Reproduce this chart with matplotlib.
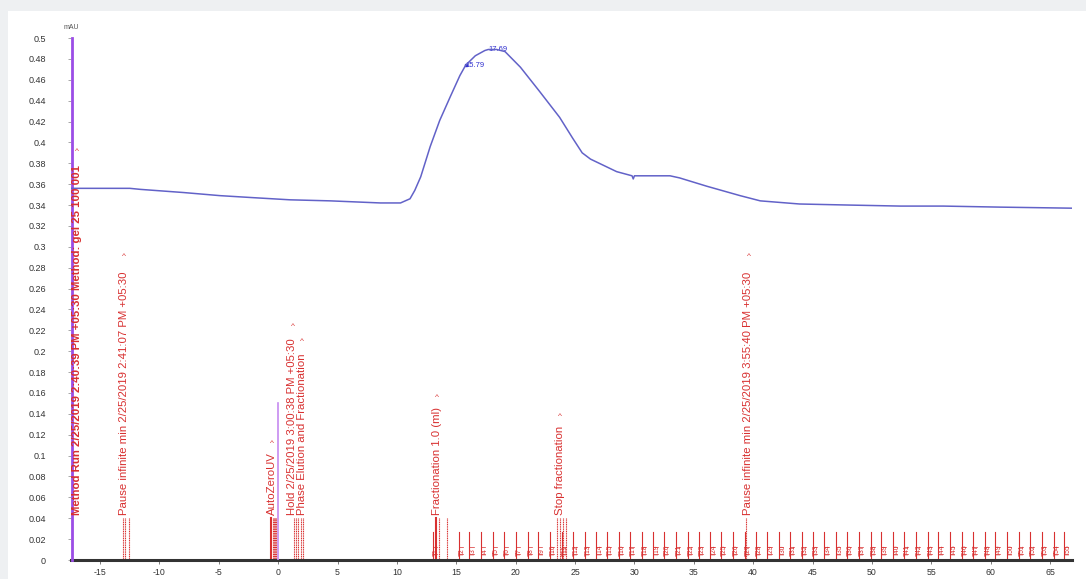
import matplotlib.pyplot as plt
from matplotlib.patches import Rectangle

plt.rcParams["axes.unicode_minus"] = False

# UV trace (min, mAU)
uv_t = [-17.4, -15.0, -12.5, -11.6, -8.0, -4.9, -2.0, 1.0, 4.4, 8.6, 10.3, 11.1,
        11.5, 12.0, 12.8, 13.6, 14.5, 15.3, 15.79, 16.6, 17.4, 17.69, 18.4, 19.1,
        20.4, 22.0, 23.7, 24.8, 25.6, 26.3, 28.5, 29.8, 29.9, 30.0, 31.9, 33.0, 33.8,
        36.1, 38.9, 40.6, 43.9, 48.0, 52.4, 56.0, 60.8, 66.8]
uv_a = [0.356, 0.356, 0.356, 0.355, 0.352, 0.349, 0.347, 0.345, 0.344, 0.342, 0.342, 0.346,
        0.354, 0.367, 0.396, 0.421, 0.444, 0.464, 0.474, 0.483, 0.488, 0.489, 0.489, 0.487,
        0.472, 0.449, 0.424, 0.404, 0.390, 0.384, 0.372, 0.368, 0.365, 0.368, 0.368, 0.368,
        0.366, 0.358, 0.349, 0.344, 0.341, 0.340, 0.339, 0.339, 0.338, 0.337]

peak_t = [15.79, 17.69]
peak_a = [0.474, 0.489]
peak_lbl = ["15.79", "17.69"]

# run log events
event_x = [-16.95, -13.0, -0.5, 1.2, 2.0, 13.4, 23.7, 39.6]
event_top = [0.391, 0.291, 0.112, 0.224, 0.209, 0.156, 0.137, 0.291]
event_txt = [
    "Method Run 2/25/2019 2:40:39 PM +05:30 Method: gel 25 100 001",
    "Pause infinite min 2/25/2019 2:41:07 PM +05:30",
    "AutoZeroUV",
    "Hold 2/25/2019 3:00:38 PM +05:30",
    "Phase Elution and Fractionation",
    "Fractionation 1.0 (ml)",
    "Stop fractionation",
    "Pause infinite min 2/25/2019 3:55:40 PM +05:30",
]
mark_x = [-17.4, -13.1, -12.9, -12.6, -0.45, -0.35, -0.25, -0.15, 1.3, 1.5, 1.7,
          1.9, 2.1, 13.5, 14.2, 23.5, 23.7, 24.0, 24.2, 39.4]

# fraction marks
frac_x = [13.0, 15.2, 16.1, 17.1, 18.1, 19.0, 20.0, 21.0, 21.9, 22.9, 23.9, 24.8,
          25.8, 26.8, 27.7, 28.7, 29.6, 30.6, 31.6, 32.5, 33.5, 34.5, 35.4, 36.4,
          37.3, 38.3, 39.3, 40.2, 41.2, 42.2, 43.1, 44.1, 45.0, 46.0, 47.0, 47.9,
          48.9, 49.9, 50.8, 51.8, 52.7, 53.7, 54.7, 55.6, 56.6, 57.6, 58.5, 59.5,
          60.4, 61.4, 62.4, 63.3, 64.3, 65.3, 66.2]

red = "#d83030"
font = "Liberation Sans"

fig = plt.figure(figsize=(10.86, 5.79), dpi=100, facecolor="#eef0f2")
fig.patches.append(Rectangle((8 / 1086, 0), 1, 1 - 11 / 579, transform=fig.transFigure,
                             facecolor="white", edgecolor="none", zorder=-10))
ax = fig.add_axes([71 / 1086, 19 / 579, 1001 / 1086, 522 / 579])
ax.set_facecolor("none")

# purple UV spikes
ax.plot([-17.4, -17.4], [0, 0.5], color="#9b4de6", lw=2, clip_on=False, zorder=3)
ax.plot([0, 0], [0, 0.15], color="#c68af0", lw=1.2, zorder=3)

ax.plot(uv_t, uv_a, color="#6262c8", lw=1.1, zorder=4)
for t, a, s in zip(peak_t, peak_a, peak_lbl):
    ax.text(t, a, s, color="#3030d0", fontsize=5.5, family=font, ha="left", va="center")
ax.plot([15.79], [0.474], marker="s", ms=2, color="#3030d0")

for x in mark_x:
    ax.plot([x, x], [0, 0.04], color=red, lw=0.8, ls=(0, (1, 0.6)), zorder=2)

for i, (x, top, s) in enumerate(zip(event_x, event_top, event_txt)):
    ax.text(x, 0.043, s, rotation=90, color=red, fontsize=8.2, family=font,
            ha="center", va="bottom", fontweight="bold" if i == 0 else "normal", zorder=5)
    ax.text(x, top, "^", color=red, fontsize=6, family=font, ha="center", va="center")
    if i in (2, 5):
        ax.plot([x - 0.1, x - 0.1], [0, 0.04], color=red, lw=1.5, zorder=2)

for k, x in enumerate(frac_x):
    ax.plot([x, x], [0, 0.027], color=red, lw=0.8, zorder=2)
    ax.plot([x, x + 0.35], [0.012, 0.012], color=red, lw=0.5, zorder=2)
    ax.plot([x, x + 0.35], [0.006, 0.006], color=red, lw=0.5, zorder=2)
    ax.text(x + 0.3, 0.004, "T%d" % (k + 1), rotation=90, color=red, fontsize=4.8,
            family=font, ha="center", va="bottom", zorder=2)

ax.set_xlim(-17.45, 66.85)
ax.set_ylim(0, 0.5)
ax.set_xticks(range(-15, 70, 5))
ax.set_yticks([i * 0.02 for i in range(26)])
ax.set_yticklabels(["%g" % round(i * 0.02, 2) for i in range(26)])

for side in ("top", "right", "left"):
    ax.spines[side].set_visible(False)
ax.spines["bottom"].set_linewidth(2.2)
ax.spines["bottom"].set_color("#333333")
ax.tick_params(axis="y", length=2, width=0.6, color="#999999", pad=16,
               labelsize=6.5, labelcolor="#333333")
ax.tick_params(axis="x", length=3, width=0.6, color="#666666", pad=3,
               labelsize=6.3, labelcolor="#333333")
for lbl in ax.get_xticklabels() + ax.get_yticklabels():
    lbl.set_family(font)

ax.text(-17.4, 0.5105, "mAU", fontsize=5, color="#555555", family=font,
        ha="center", va="center", clip_on=False)

fig.savefig("out.png", dpi=100, facecolor=fig.get_facecolor())
